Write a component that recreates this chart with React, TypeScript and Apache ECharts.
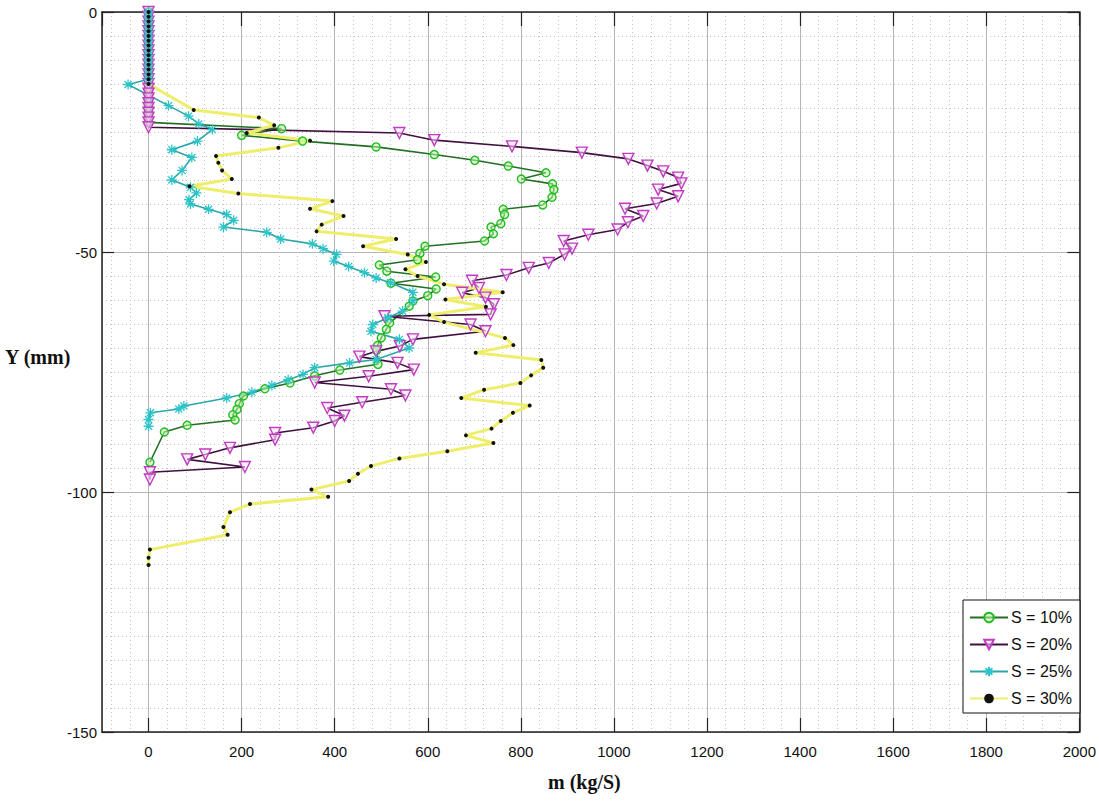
import React, { useEffect, useRef } from "react";
import * as echarts from "echarts";

// ---------- Data (m in kg/S, Y in mm) ----------
const seriesNames = ["S = 10%", "S = 20%", "S = 25%", "S = 30%"];

const s10M = [0, 0, 0, 0, 0, 0, 0, 0, 0, 0, 0, 0, 0, 0, 0, 0, 0, 0, 0, 0, 0, 0, 0, 0,
  286, 200, 331, 489, 614, 701, 773, 854, 801, 868, 871, 867, 847, 762, 765, 757, 736, 741, 722,
  594, 583, 578, 496, 512, 617, 521, 618, 600, 568, 560, 518, 511, 500, 492, 490, 493, 411, 357,
  304, 250, 204, 195, 190, 181, 186, 83, 34, 3];
const s10Y = [0, -1, -2, -3, -4, -5, -6, -7, -8, -9, -10, -11, -12, -13, -14, -15, -16, -17, -18, -19, -20, -21, -22, -23,
  -24.3, -25.7, -26.9, -28.1, -29.7, -30.9, -32.1, -33.5, -34.8, -35.8, -37, -38.6, -40.2, -41.1, -42.2, -44.1, -44.8, -46.2, -47.7,
  -48.8, -50.3, -51.6, -52.7, -54, -55.2, -56.5, -57.7, -59.1, -60.2, -61.3, -64.8, -66.1, -67.9, -69.5, -70.5, -73.4, -74.6, -75.8,
  -77.3, -78.5, -80, -81.6, -82.8, -83.9, -85, -86.1, -87.5, -93.8];

const s20M = [0, 0, 0, 0, 0, 0, 0, 0, 0, 0, 0, 0, 0, 0, 0, 0, 0, 0, 0, 0, 0, 0, 0, 0, 0,
  539, 614, 781, 931, 1031, 1072, 1106, 1138, 1145, 1095, 1138, 1092, 1024, 1063, 1030, 1008, 945, 892,
  910, 894, 860, 817, 769, 695, 710, 674, 724, 742, 735, 507, 692, 724, 568, 540, 489, 453, 535, 570,
  473, 357, 521, 552, 459, 384, 421, 400, 354, 272, 272, 175, 122, 83, 207, 3, 3];
const s20Y = [0, -1, -2, -3, -4, -5, -6, -7, -8, -9, -10, -11, -12, -13, -14, -15, -16, -17, -18, -19, -20, -21, -22, -23, -24,
  -25.2, -26.7, -28, -29.3, -30.6, -32, -33.2, -34.5, -35.7, -37, -38.4, -39.9, -41, -42.5, -43.8, -45.3, -46.4, -47.7,
  -49.3, -50.5, -52.3, -53.3, -54.8, -56, -57.5, -58.5, -59.5, -60.9, -63, -63.4, -65.1, -66.5, -68.2, -69.6, -70.7, -71.8, -73.1, -74.5,
  -75.9, -77.2, -78.6, -79.9, -81.3, -82.5, -84.1, -85.2, -86.6, -87.7, -89.1, -90.8, -92.2, -93.2, -94.8, -95.9, -97.4];

const s25M = [0, 0, 0, 0, 0, 0, 0, 0, 0, 0, 0, 0, 0, 0, 0,
  -44, 43, 86, 108, 137, 105, 50, 93, 72, 50, 90, 103, 87, 90, 129, 168, 183, 161, 254, 284,
  352, 375, 404, 398, 430, 464, 489, 520, 568, 568, 546, 514, 482, 478, 539, 560, 489, 432, 357, 332,
  300, 265, 222, 168, 76, 65, 4, 0, 0];
const s25Y = [0, -1, -2, -3, -4, -5, -6, -7, -8, -9, -10, -11, -12, -13, -14,
  -15.1, -19.5, -21.7, -23.3, -24.5, -26.9, -28.7, -30.3, -33, -35, -36.5, -37.7, -39.1, -40, -41.1, -42.2, -43.4, -44.8, -45.9, -47.3,
  -48.3, -49.3, -50.5, -51.9, -53, -54.3, -55.4, -56.4, -58.4, -60.2, -62.3, -63.7, -65.1, -66.5, -68.2, -70, -72.4, -73.1, -74.1, -75.5,
  -76.6, -77.8, -79.2, -80.4, -82.1, -82.7, -83.5, -84.9, -86.3];

const s30M = [0, 0, 0, 0, 0, 0, 0, 0, 0, 0, 0, 0, 0, 0, 0, 0,
  97, 237, 270, 211, 347, 279, 145, 150, 158, 179, 88, 193, 395, 347, 419, 372, 361, 532, 461,
  557, 596, 552, 578, 635, 761, 638, 725, 603, 635, 766, 784, 703, 844, 848, 822, 799, 721, 672,
  819, 783, 757, 737, 682, 741, 642, 539, 478, 450, 431, 350, 386, 218, 175, 161, 170, 3, 0, 0];
const s30Y = [0, -1, -2, -3, -4, -5, -6, -7, -8, -9, -10, -11, -12, -13, -14, -15,
  -20.4, -22, -23.6, -25.2, -26.8, -28.3, -30, -31.4, -33, -34.8, -36.3, -37.8, -39.4, -41, -42.5, -44.3, -45.7, -47.3, -48.8,
  -50.5, -52.1, -53.6, -55, -56.7, -58.4, -59.9, -61.4, -63.1, -64.6, -67.9, -69.4, -71, -72.5, -74.1, -75.7, -77.3, -78.7, -80.4,
  -82, -83.5, -85.2, -86.8, -88.2, -89.8, -91.5, -93, -94.6, -96.2, -97.7, -99.5, -101, -102.5, -104.2, -107.3, -108.9, -112, -113.7, -115.2];

const xMin = -100;
const xMax = 2000;
const yMin = -150;
const yMax = 0;
const yStep = 50;

const pairs = (xs: number[], ys: number[]) => xs.map((x, i) => [x, ys[i]]);

const asterisk = "path://M0,5L10,5M5,0L5,10M1.5,1.5L8.5,8.5M8.5,1.5L1.5,8.5";

const tickFont = { fontFamily: "'Liberation Sans Narrow', 'Liberation Sans', Arial, sans-serif", fontSize: 15, color: "#111" };

export default function App() {
  const ref = useRef<HTMLDivElement>(null);

  useEffect(() => {
    document.body.style.margin = "0";
    const chart = echarts.init(ref.current!, undefined, { renderer: "svg" });
    const majorSplit = { show: true, lineStyle: { color: "#b4b4b4", width: 1, type: "solid" as const } };
    const minorSplit = { show: true, lineStyle: { color: "#c4c4c4", width: 1, type: [1, 3] as any } };
    const option: any = {
      animation: false,
      backgroundColor: "#ffffff",
      grid: { left: 102, top: 12, right: 17, bottom: 69, containLabel: false },
      xAxis: [
        {
          type: "value",
          min: xMin,
          max: xMax,
          splitNumber: 10,
          axisLine: { show: true, onZero: false, lineStyle: { color: "#222", width: 1.5 } },
          axisTick: { show: true, inside: true, length: 14, lineStyle: { color: "#222", width: 1.2 } },
          axisLabel: { ...tickFont, margin: 12, showMinLabel: false, formatter: (v: number) => (v === xMin ? "" : String(v)) },
          splitLine: majorSplit,
          minorTick: { show: false, splitNumber: 5 },
          minorSplitLine: minorSplit,
        },
        {
          type: "value",
          position: "top",
          min: xMin,
          max: xMax,
          splitNumber: 10,
          axisLine: { show: true, onZero: false, lineStyle: { color: "#222", width: 1.5 } },
          axisTick: { show: true, inside: true, length: 14, lineStyle: { color: "#222", width: 1.2 } },
          axisLabel: { show: false },
          splitLine: { show: false },
        },
      ],
      yAxis: [
        {
          type: "value",
          min: yMin,
          max: yMax,
          interval: yStep,
          axisLine: { show: true, onZero: false, lineStyle: { color: "#222", width: 1.5 } },
          axisTick: { show: true, inside: true, length: 12, lineStyle: { color: "#222", width: 1.2 } },
          axisLabel: { ...tickFont, margin: 5 },
          splitLine: majorSplit,
          minorTick: { show: false, splitNumber: 10 },
          minorSplitLine: minorSplit,
        },
        {
          type: "value",
          position: "right",
          min: yMin,
          max: yMax,
          interval: yStep,
          axisLine: { show: true, onZero: false, lineStyle: { color: "#222", width: 1.5 } },
          axisTick: { show: true, inside: true, length: 12, lineStyle: { color: "#222", width: 1.2 } },
          axisLabel: { show: false },
          splitLine: { show: false },
        },
      ],
      legend: {
        orient: "vertical",
        left: 963,
        top: 600,
        padding: [9, 8, 6, 6],
        itemGap: 10,
        itemWidth: 38,
        itemHeight: 12,
        backgroundColor: "#ffffff",
        borderColor: "#111",
        borderWidth: 1,
        borderRadius: 0,
        data: seriesNames,
        textStyle: { fontFamily: "'Liberation Sans Narrow', 'Liberation Sans', Arial, sans-serif", fontSize: 16, lineHeight: 17, color: "#111", padding: [0, 0, 0, -2] },
      },
      graphic: [
        {
          type: "text",
          left: 5,
          top: 347,
          style: { text: "Y (mm)", fontFamily: "'Liberation Serif', 'Times New Roman', serif", fontWeight: "bold", fontSize: 20, fill: "#111" },
        },
        {
          type: "text",
          left: 548,
          top: 772,
          style: { text: "m (kg/S)", fontFamily: "'Liberation Serif', 'Times New Roman', serif", fontWeight: "bold", fontSize: 20, fill: "#111" },
        },
      ],
      series: [
        {
          name: seriesNames[0],
          type: "line",
          data: pairs(s10M, s10Y),
          symbol: "circle",
          symbolSize: 8,
          lineStyle: { color: "#236f23", width: 1.6 },
          itemStyle: { color: "rgba(190,250,170,0.55)", borderColor: "#22bb22", borderWidth: 1.4 },
        },
        {
          name: seriesNames[1],
          type: "line",
          data: pairs(s20M, s20Y),
          symbol: "triangle",
          symbolRotate: 180,
          symbolSize: 11,
          lineStyle: { color: "#40103f", width: 1.6 },
          itemStyle: { color: "rgba(250,225,250,0.55)", borderColor: "#c03cc0", borderWidth: 1.4 },
        },
        {
          name: seriesNames[2],
          type: "line",
          data: pairs(s25M, s25Y),
          symbol: asterisk,
          symbolSize: 10,
          lineStyle: { color: "#2aa6aa", width: 1.6 },
          itemStyle: { color: "#2cc4c8", borderColor: "#2cc4c8", borderWidth: 1.3 },
        },
        {
          name: seriesNames[3],
          type: "line",
          data: pairs(s30M, s30Y),
          symbol: "circle",
          symbolSize: 4,
          lineStyle: { color: "#eeee6a", width: 3 },
          itemStyle: { color: "#111", borderColor: "#111", borderWidth: 0 },
        },
      ],
    };
    chart.setOption(option);
    return () => chart.dispose();
  }, []);

  return <div ref={ref} style={{ position: "fixed", left: 0, top: 0, width: 1099, height: 801 }} />;
}
